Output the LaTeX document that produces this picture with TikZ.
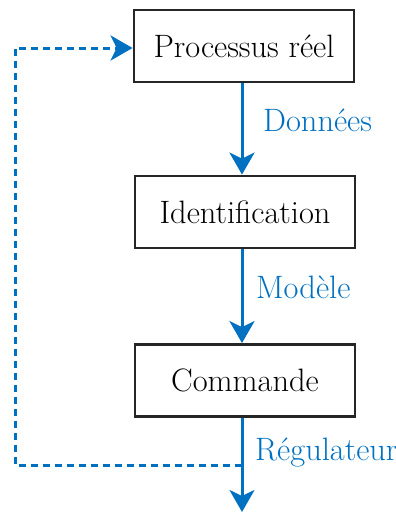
\documentclass[tikz,border=0pt]{standalone}
\usetikzlibrary{arrows.meta}
\definecolor{flow}{RGB}{0,112,192}
\begin{document}
\begin{tikzpicture}[x=1pt,y=-1pt,
  stage/.style={draw=black!85,line width=2.8pt,minimum width=220pt,minimum height=72pt,
    inner sep=0pt,font=\fontsize{32.4}{32.4}\selectfont,text=black},
  tip/.style={-{Stealth[length=22pt,width=25pt,inset=6pt]}},
  flowarrow/.style={draw=flow,line width=3pt,tip},
  feedback/.style={draw=flow,line width=3pt,dash pattern=on 7pt off 5pt,tip},
  tag/.style={text=flow,font=\fontsize{32.4}{32.4}\selectfont,anchor=west,inner sep=0pt}]
\useasboundingbox (0,0) rectangle (396,512);
\node[stage] (proc) at (244,46) {Processus réel};
\node[stage] (ident) at (245,212) {Identification};
\node[stage] (cmd) at (245,380.5) {Commande};
\coordinate (out) at (242,512);
\coordinate (fbturn) at (242,465);
\coordinate (fbleft) at (15,465);
\coordinate (fbtop) at (15,48);
\draw[flowarrow] (proc.south -| out) -- (ident.north -| out);
\draw[flowarrow] (ident.south -| out) -- (cmd.north -| out);
\draw[flowarrow] (cmd.south -| out) -- (out);
\draw[feedback] (fbturn) -- (fbleft) -- (fbtop) -- (fbtop -| proc.west);
\node[tag] (donnees) at (263,120) {Données};
\node[tag] (modele) at (256,287) {Modèle};
\node[tag] (regul) at (255,453) {Régulateur};
\end{tikzpicture}
\end{document}
